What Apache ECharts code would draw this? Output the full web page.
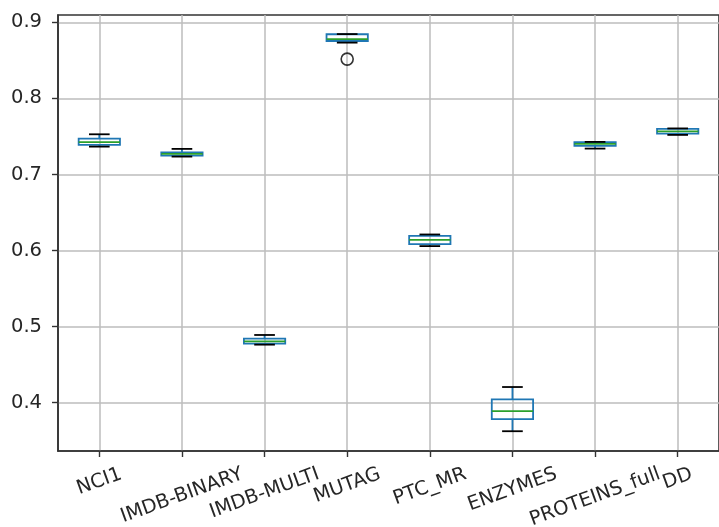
<!DOCTYPE html>
<html>
<head>
<meta charset="utf-8">
<script src="https://cdn.jsdelivr.net/npm/echarts@6/dist/echarts.min.js"></script>
<style>
  html, body { margin: 0; padding: 0; background: #fff; }
  #chart { width: 719px; height: 527px; }
</style>
</head>
<body>
<div id="chart"></div>
<script>
// Datasets on the x axis
const categories = ['NCI1', 'IMDB-BINARY', 'IMDB-MULTI', 'MUTAG', 'PTC_MR', 'ENZYMES', 'PROTEINS_full', 'DD'];

// Five-number summaries per dataset (lower whisker, Q1, median, Q3, upper whisker)
const lowWhisker  = [0.7366, 0.7235, 0.4763, 0.8733, 0.6058, 0.3625, 0.7340, 0.7520];
const q1          = [0.7390, 0.7248, 0.4776, 0.8754, 0.6084, 0.3784, 0.7375, 0.7538];
const median      = [0.7425, 0.7270, 0.4806, 0.8780, 0.6141, 0.3889, 0.7401, 0.7565];
const q3          = [0.7470, 0.7290, 0.4842, 0.8843, 0.6194, 0.4044, 0.7425, 0.7600];
const highWhisker = [0.7528, 0.7336, 0.4890, 0.8845, 0.6211, 0.4206, 0.7428, 0.7605];

// Points beyond the whiskers
const outlierCategories = ['MUTAG'];
const outlierValues = [0.8516];

// Y axis ticks and limits
const yTicks = [0.4, 0.5, 0.6, 0.7, 0.8, 0.9];
const Y_MIN = 0.3365;
const Y_MAX = 0.9096;

const BLUE = '#1f77b4';
const GREEN = '#2ca02c';
const CAP = '#000000';
const TEXT = '#262626';
const FS = 19.5;
const FONT = 'DejaVu Sans';
const LABEL_ROT = 20;

const measureCtx = document.createElement('canvas').getContext('2d');
measureCtx.font = FS + 'px "' + FONT + '"';

const chart = echarts.init(document.getElementById('chart'), null, { renderer: 'canvas' });

function renderBox(params, api) {
  const x = api.value(0);
  const pLo = api.coord([x, api.value(1)]);
  const pQ1 = api.coord([x, api.value(2)]);
  const pMed = api.coord([x, api.value(3)]);
  const pQ3 = api.coord([x, api.value(4)]);
  const pHi = api.coord([x, api.value(5)]);
  const cx = pMed[0];
  const boxW = api.size([0.5, 0])[0];
  const capW = boxW / 2;
  const lw = 1.8;
  return {
    type: 'group',
    children: [
      { type: 'rect', shape: { x: cx - boxW / 2, y: pQ3[1], width: boxW, height: pQ1[1] - pQ3[1] },
        style: { fill: 'none', stroke: BLUE, lineWidth: lw } },
      { type: 'line', shape: { x1: cx, y1: pQ3[1], x2: cx, y2: pHi[1] }, style: { stroke: BLUE, lineWidth: lw } },
      { type: 'line', shape: { x1: cx, y1: pQ1[1], x2: cx, y2: pLo[1] }, style: { stroke: BLUE, lineWidth: lw } },
      { type: 'line', shape: { x1: cx - capW / 2, y1: pHi[1], x2: cx + capW / 2, y2: pHi[1] }, style: { stroke: CAP, lineWidth: lw } },
      { type: 'line', shape: { x1: cx - capW / 2, y1: pLo[1], x2: cx + capW / 2, y2: pLo[1] }, style: { stroke: CAP, lineWidth: lw } },
      { type: 'line', shape: { x1: cx - boxW / 2, y1: pMed[1], x2: cx + boxW / 2, y2: pMed[1] }, style: { stroke: GREEN, lineWidth: lw } }
    ]
  };
}

// Category names, rotated and centred under each tick
function renderLabel(params, api) {
  const x = api.value(0);
  const p = api.coord([x, Y_MIN]);
  const name = categories[params.dataIndex];
  const w = measureCtx.measureText(name).width;
  const h = FS * 1.16;
  const th = LABEL_ROT * Math.PI / 180;
  const bboxH = w * Math.sin(th) + h * Math.cos(th);
  const gap = 12;
  return {
    type: 'text',
    x: p[0],
    y: p[1] + gap + bboxH / 2,
    rotation: th,
    style: {
      text: name,
      fill: TEXT,
      font: FS + 'px "' + FONT + '"',
      align: 'center',
      verticalAlign: 'middle',
      textAlign: 'center',
      textVerticalAlign: 'middle'
    }
  };
}

const boxData = categories.map((c, i) => [i + 1, lowWhisker[i], q1[i], median[i], q3[i], highWhisker[i]]);
const labelData = categories.map((c, i) => [i + 1, Y_MIN]);
const outlierData = outlierValues.map((v, k) => [categories.indexOf(outlierCategories[k]) + 1, v]);

chart.setOption({
  animation: false,
  backgroundColor: '#ffffff',
  grid: {
    left: 58, top: 15, width: 671, height: 436,
    show: true, borderColor: '#333333', borderWidth: 1.6, backgroundColor: 'transparent'
  },
  xAxis: {
    type: 'value',
    min: 0.5, max: 8.5, splitNumber: 8,
    axisLine: { show: true, onZero: false, lineStyle: { color: '#333333', width: 1.6 } },
    axisTick: { show: true, length: 6, customValues: [1, 2, 3, 4, 5, 6, 7, 8], lineStyle: { color: '#333333', width: 1.4 } },
    axisLabel: { show: false },
    splitLine: { show: true, lineStyle: { color: '#bdbdbd', width: 1.5 } }
  },
  yAxis: {
    type: 'value',
    min: Y_MIN, max: Y_MAX, splitNumber: 5,
    axisLine: { show: true, onZero: false, lineStyle: { color: '#333333', width: 1.6 } },
    axisTick: { show: true, length: 6, customValues: yTicks, lineStyle: { color: '#333333', width: 1.4 } },
    axisLabel: {
      customValues: yTicks, margin: 16, color: TEXT, fontSize: FS, fontFamily: FONT,
      formatter: v => v.toFixed(1)
    },
    splitLine: { show: true, lineStyle: { color: '#bdbdbd', width: 1.5 } }
  },
  series: [
    {
      type: 'custom', name: 'boxes', silent: true, clip: false,
      renderItem: renderBox,
      encode: { x: 0, y: [1, 2, 3, 4, 5] },
      data: boxData, z: 3
    },
    {
      type: 'scatter', name: 'outliers', silent: true,
      symbol: 'circle', symbolSize: 12,
      itemStyle: { color: 'transparent', borderColor: '#000000', borderWidth: 1.6 },
      data: outlierData, z: 4
    },
    {
      type: 'custom', name: 'labels', silent: true, clip: false,
      renderItem: renderLabel,
      encode: { x: 0, y: 1 },
      data: labelData, z: 5
    }
  ]
});
</script>
</body>
</html>
